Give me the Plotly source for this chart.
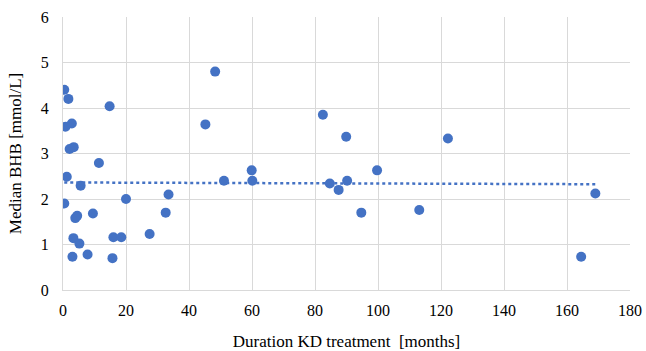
import numpy as np
import plotly.graph_objects as go

duration_months = [0.4, 1.7, 0.8, 2.8, 2.1, 3.4, 1.2, 0.4, 5.6, 11.4, 14.8, 3.9, 4.5,
                   9.5, 3.3, 5.2, 3.0, 7.8, 15.7, 16.0, 18.5, 20.0, 27.5, 32.6, 33.5,
                   45.2, 48.3, 51.1, 59.9, 60.1, 82.5, 84.7, 89.9, 87.5, 90.2, 99.7,
                   94.7, 113.1, 122.2, 164.5, 169.0]
median_bhb = [4.40, 4.20, 3.59, 3.66, 3.10, 3.14, 2.49, 1.90, 2.29, 2.79, 4.04, 1.58, 1.63,
              1.68, 1.14, 1.02, 0.73, 0.78, 0.70, 1.16, 1.16, 2.00, 1.23, 1.70, 2.10,
              3.64, 4.80, 2.40, 2.63, 2.40, 3.85, 2.34, 3.37, 2.20, 2.40, 2.63,
              1.70, 1.76, 3.33, 0.73, 2.12]

x_ticks = [0, 20, 40, 60, 80, 100, 120, 140, 160, 180]
y_ticks = [0, 1, 2, 3, 4, 5, 6]

x = np.array(duration_months)
y = np.array(median_bhb)
slope, intercept = np.polyfit(x, y, 1)
tx = np.array([x.min(), x.max()])
ty = slope * tx + intercept

blue = "#4472C4"
fig = go.Figure()
fig.add_trace(go.Scatter(x=tx, y=ty, mode="lines",
                         line=dict(color=blue, width=2.5, dash="dot"),
                         hoverinfo="skip", showlegend=False))
fig.add_trace(go.Scatter(x=duration_months, y=median_bhb, mode="markers",
                         marker=dict(color=blue, size=10), showlegend=False))

fig.update_layout(
    width=646, height=351,
    margin=dict(l=63, r=16, t=17, b=61),
    paper_bgcolor="white", plot_bgcolor="white",
    font=dict(family="Liberation Serif, Times New Roman, serif", size=16, color="#000000"),
    showlegend=False,
)
fig.update_xaxes(range=[0, 180], tickvals=x_ticks, showgrid=True, gridcolor="#D9D9D9",
                 gridwidth=1, zeroline=False, showline=True, linecolor="#D9D9D9",
                 mirror=False, ticks="", tickfont=dict(size=16), automargin=False,
                 ticklabelstandoff=6,
                 title=dict(text="Duration KD treatment  [months]", font=dict(size=17), standoff=16))
fig.update_yaxes(range=[0, 6], tickvals=y_ticks, showgrid=True, gridcolor="#D9D9D9",
                 gridwidth=1, zeroline=False, showline=True, linecolor="#D9D9D9",
                 ticks="", tickfont=dict(size=16), automargin=False,
                 ticklabelstandoff=10,
                 title=dict(text="Median BHB [mmol/L]", font=dict(size=17), standoff=14))

fig.write_html(
    "out.html",
    config={"displayModeBar": False},
    post_script="document.body.style.margin='0';document.body.style.overflow='hidden';",
)
